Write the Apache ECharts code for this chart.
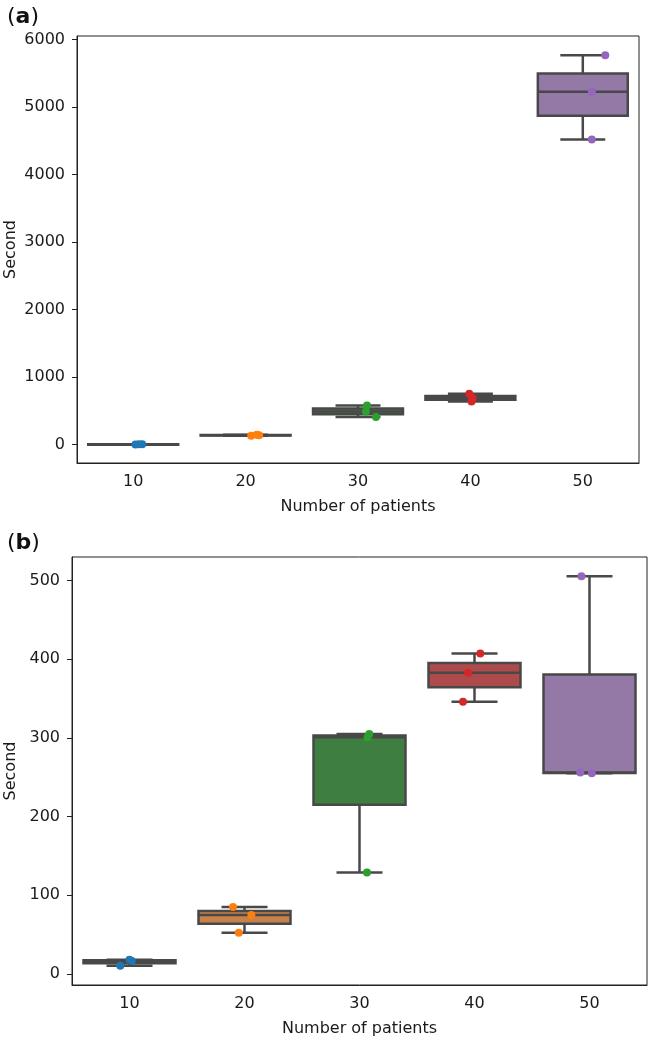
<!DOCTYPE html>
<html>
<head>
<meta charset="utf-8">
<script src="https://cdn.jsdelivr.net/npm/echarts@6/dist/echarts.min.js"></script>
<style>
  html, body { margin: 0; padding: 0; background: #fff; }
  #chart { width: 656px; height: 1038px; }
</style>
</head>
<body>
<div id="chart"></div>
<script>
const categories = ['10', '20', '30', '40', '50']
const boxColors = ['#3a6f96', '#c6824a', '#3f7e41', '#ad4b4c', '#9479a7']
const dotColors = ['#1f77b4', '#ff7f0e', '#2ca02c', '#d62728', '#9467bd']

// panel (a): [lower, q1, median, q3, upper]
const boxA = [
  [3, 4, 5, 6.5, 8],
  [132, 136, 140, 144, 148],
  [410, 451, 493, 537, 582],
  [641, 666, 692, 723, 755],
  [4520, 4875, 5230, 5500, 5770]
]
// strip points: values and jittered x offsets
const pointsA = [
  [3, 5, 8],
  [132, 140, 148],
  [410, 493, 582],
  [641, 692, 755],
  [4520, 5230, 5770]
]
const jitterA = [
  [0.02, 0.08, 0.05],
  [0.05, 0.12, 0.1],
  [0.16, 0.07, 0.08],
  [0.01, 0.02, -0.01],
  [0.08, 0.08, 0.2]
]
const ticksA = [0, 1000, 2000, 3000, 4000, 5000, 6000]

// panel (b)
const boxB = [
  [10.5, 13.5, 16.5, 17.3, 18],
  [52.5, 63.8, 75, 80.1, 85.2],
  [129, 215, 301, 303, 305],
  [346, 364.5, 383, 395.3, 407.5],
  [255, 255.5, 256, 380.8, 505.5]
]
const pointsB = [
  [10.5, 16.5, 18],
  [52.5, 75, 85.2],
  [129, 301, 305],
  [346, 383, 407.5],
  [255, 256, 505.5]
]
const jitterB = [
  [-0.08, 0.02, 0.0],
  [-0.05, 0.06, -0.1],
  [0.065, 0.07, 0.085],
  [-0.1, -0.055, 0.05],
  [0.02, -0.08, -0.07]
]
const ticksB = [0, 100, 200, 300, 400, 500]

const FONT = 'DejaVu Sans'
const LINE = '#484848'

const renderBox = (params, api) => {
  const i = api.value(0)
  const band = api.size([1, 0])[0]
  const w = band * 0.8
  const cw = w * 0.5
  const cx = api.coord([i, 0])[0]
  const y = k => api.coord([i, api.value(k)])[1]
  const lo = y(1), q1 = y(2), md = y(3), q3 = y(4), hi = y(5)
  const st = { stroke: LINE, lineWidth: 2.5 }
  return {
    type: 'group',
    children: [
      { type: 'line', shape: { x1: cx, y1: q3, x2: cx, y2: hi }, style: st },
      { type: 'line', shape: { x1: cx, y1: q1, x2: cx, y2: lo }, style: st },
      { type: 'line', shape: { x1: cx - cw / 2, y1: hi, x2: cx + cw / 2, y2: hi }, style: st },
      { type: 'line', shape: { x1: cx - cw / 2, y1: lo, x2: cx + cw / 2, y2: lo }, style: st },
      { type: 'rect', shape: { x: cx - w / 2, y: q3, width: w, height: Math.max(q1 - q3, 0.5) },
        style: { fill: boxColors[i], stroke: LINE, lineWidth: 2.5 } },
      { type: 'line', shape: { x1: cx - w / 2, y1: md, x2: cx + w / 2, y2: md }, style: st }
    ]
  }
}

const textStyle = { color: '#1a1a1a', fontFamily: FONT, fontSize: 16 }

const makeAxes = (gi, yMin, yMax, ticks, yGap) => ({
  x: [
    {
      gridIndex: gi, type: 'category', data: categories, boundaryGap: true,
      name: 'Number of patients', nameLocation: 'middle', nameGap: 36,
      nameMoveOverlap: false,
      nameTextStyle: textStyle,
      axisLine: { onZero: false, lineStyle: { color: '#222', width: 1 } },
      axisTick: { alignWithLabel: true, length: 5, lineStyle: { color: '#222' } },
      axisLabel: { ...textStyle, margin: 11 },
      splitLine: { show: false }
    },
    { gridIndex: gi, type: 'value', min: -0.5, max: 4.5, show: false }
  ],
  y: {
    gridIndex: gi, type: 'value', min: yMin, max: yMax,
    name: 'Second', nameLocation: 'middle', nameGap: yGap,
    nameMoveOverlap: false,
    nameTextStyle: textStyle,
    axisLine: { show: true, onZero: false, lineStyle: { color: '#222', width: 1 } },
    axisTick: { show: true, length: 5, customValues: ticks, lineStyle: { color: '#222' } },
    axisLabel: { ...textStyle, margin: 12, customValues: ticks, formatter: v => String(v) },
    splitLine: { show: false }
  }
})

const axA = makeAxes(0, -271, 6055, ticksA, 58)
const axB = makeAxes(1, -14, 530, ticksB, 53)

const boxData = rows => rows.map((r, i) => [i, ...r])
const stripData = (pts, jit, i) => pts[i].map((v, k) => [i + jit[i][k], v])

const series = []
const addPanel = (gi, boxes, pts, jit) => {
  series.push({
    type: 'custom', xAxisIndex: gi * 2, yAxisIndex: gi,
    renderItem: renderBox, data: boxData(boxes), z: 2, silent: true
  })
  categories.forEach((c, i) => {
    series.push({
      type: 'scatter', xAxisIndex: gi * 2 + 1, yAxisIndex: gi,
      data: stripData(pts, jit, i), symbolSize: 8,
      itemStyle: { color: dotColors[i], opacity: 1 }, z: 5, silent: true
    })
  })
}
addPanel(0, boxA, pointsA, jitterA)
addPanel(1, boxB, pointsB, jitterB)

const panelTitle = (letter, top) => ({
  text: '{p|(}{b|' + letter + '}{p|)}', left: 2, top: top,
  textStyle: {
    rich: {
      p: { fontSize: 22, fontFamily: FONT, fontWeight: 'normal', color: '#111' },
      b: { fontSize: 22, fontFamily: FONT, fontWeight: 'bold', color: '#111' }
    }
  }
})

const chart = echarts.init(document.getElementById('chart'), null, { renderer: 'canvas' })
chart.setOption({
  animation: false,
  backgroundColor: '#fff',
  title: [panelTitle('a', 1), panelTitle('b', 527)],
  grid: [
    { left: 77, top: 36, width: 562, height: 427, outerBoundsMode: 'none', containLabel: false,
      show: true, borderColor: '#222', borderWidth: 1 },
    { left: 72, top: 557, width: 575, height: 428, outerBoundsMode: 'none', containLabel: false,
      show: true, borderColor: '#222', borderWidth: 1 }
  ],
  xAxis: [...axA.x, ...axB.x],
  yAxis: [axA.y, axB.y],
  series
})
</script>
</body>
</html>
